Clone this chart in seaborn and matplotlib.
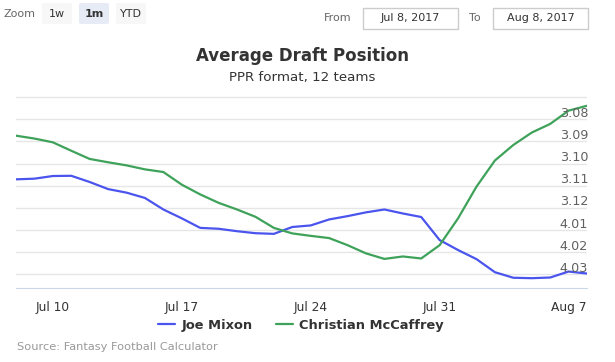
import pandas as pd
import matplotlib
matplotlib.use("Agg")
import matplotlib.pyplot as plt
from matplotlib.patches import FancyBboxPatch, Rectangle
import seaborn as sns

# daily ADP (overall pick), Jul 8 - Aug 8 2017
dates = pd.date_range("2017-07-08", "2017-08-08", freq="D")
joe_mixon = [34.71, 34.68, 34.56, 34.55, 34.83, 35.15, 35.31, 35.55, 36.07, 36.47,
             36.90, 36.94, 37.05, 37.14, 37.17, 36.86, 36.79, 36.52, 36.37, 36.20,
             36.07, 36.25, 36.41, 37.45, 37.90, 38.31, 38.90, 39.15, 39.17, 39.14,
             38.87, 38.96]
mccaffrey = [32.74, 32.87, 33.04, 33.42, 33.79, 33.94, 34.08, 34.26, 34.38, 34.95,
             35.39, 35.77, 36.07, 36.40, 36.90, 37.15, 37.26, 37.36, 37.68, 38.05,
             38.30, 38.19, 38.28, 37.68, 36.47, 35.04, 33.86, 33.16, 32.60, 32.21,
             31.61, 31.39]
pick_ticks = [31, 32, 33, 34, 35, 36, 37, 38, 39]
pick_labels = ["", "3.08", "3.09", "3.10", "3.11", "3.12", "4.01", "4.02", "4.03"]
date_ticks = pd.to_datetime(["2017-07-10", "2017-07-17", "2017-07-24", "2017-07-31", "2017-08-07"])

df = pd.concat([
    pd.DataFrame({"date": dates, "adp": joe_mixon, "player": "Joe Mixon"}),
    pd.DataFrame({"date": dates, "adp": mccaffrey, "player": "Christian McCaffrey"}),
])

W, H = 615, 362
def fx(px):
    return px / W
def fy(py):
    return 1 - py / H

sns.set_style("white")
plt.rcParams["font.family"] = ["DejaVu Sans"]

fig = plt.figure(figsize=(W / 100, H / 100), dpi=100)
ax = fig.add_axes([fx(16), fy(287.5), (587 - 16) / W, (287.5 - 96) / H])

sns.lineplot(data=df, x="date", y="adp", hue="player", ax=ax, linewidth=1.6,
             palette={"Joe Mixon": "#4b55ee", "Christian McCaffrey": "#3fa25a"},
             legend=True)

ax.set_xlim(dates[0], dates[-1])
ax.set_ylim(39.59, 30.95)
ax.set_yticks(pick_ticks)
ax.set_yticklabels([])
ax.tick_params(axis="y", length=0)
ax.grid(axis="y", color="#e6e6e6", linewidth=1)
ax.set_xlabel("")
ax.set_ylabel("")
for s in ["top", "left", "right"]:
    ax.spines[s].set_visible(False)
ax.spines["bottom"].set_color("#ccd6eb")
ax.set_xticks(date_ticks)
ax.set_xticklabels([f"{d:%b} {d.day}" for d in date_ticks])
ax.tick_params(axis="x", length=9, color="#ccd6eb", labelcolor="#333333",
               labelsize=8.8, pad=1)

trans = ax.get_yaxis_transform()
for v, lab in zip(pick_ticks, pick_labels):
    ax.text(1.002, v - 0.27, lab, transform=trans, ha="right", va="center",
            fontsize=9.2, color="#606060")

leg = ax.legend(loc="center", bbox_to_anchor=(fx(301), fy(325)),
                bbox_transform=fig.transFigure, ncol=2, frameon=False,
                handlelength=1.3, handletextpad=0.45, columnspacing=1.8,
                prop={"weight": "bold", "size": 9.4})
for t in leg.get_texts():
    t.set_color("#333333")

fig.text(fx(302), fy(56), "Average Draft Position", ha="center", va="center",
         fontsize=12, weight="bold", color="#333333")
fig.text(fx(302), fy(78), "PPR format, 12 teams", ha="center", va="center",
         fontsize=9.6, color="#333333")
fig.text(fx(17), fy(347), "Source: Fantasy Football Calculator", ha="left",
         va="center", fontsize=8.2, color="#999999")

# range selector
fig.text(fx(3), fy(14), "Zoom", ha="left", va="center", fontsize=8, color="#666666")
buttons = [("1w", 42, "#f7f7f7", "normal"), ("1m", 79, "#e6ebf5", "bold"),
           ("YTD", 116, "#f7f7f7", "normal")]
for lab, x0, bg, wt in buttons:
    fig.patches.append(FancyBboxPatch((fx(x0), fy(24)), 30 / W, 21 / H,
                                      boxstyle="round,pad=0,rounding_size=0.004",
                                      transform=fig.transFigure, facecolor=bg,
                                      edgecolor="none"))
    fig.text(fx(x0 + 15), fy(14), lab, ha="center", va="center", fontsize=8,
             color="#333333", weight=wt)

fig.text(fx(324), fy(18), "From", ha="left", va="center", fontsize=8, color="#666666")
fig.text(fx(469), fy(18), "To", ha="left", va="center", fontsize=8, color="#666666")
for x0, lab in [(363, "Jul 8, 2017"), (493, "Aug 8, 2017")]:
    fig.patches.append(Rectangle((fx(x0), fy(29)), 95 / W, 21 / H,
                                 transform=fig.transFigure, facecolor="white",
                                 edgecolor="#cccccc", linewidth=1))
    fig.text(fx(x0 + 47.5), fy(18), lab, ha="center", va="center", fontsize=8,
             color="#333333")

fig.savefig("out.png", dpi=100)
